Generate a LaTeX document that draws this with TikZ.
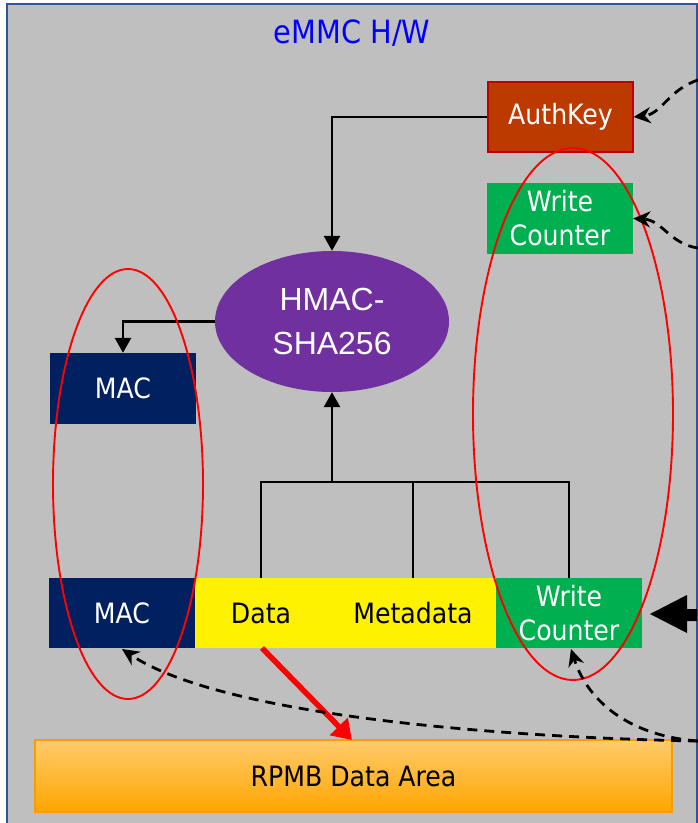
\documentclass[tikz,border=0pt]{standalone}
\usepackage{fontspec}
\setmainfont{DejaVu Sans Condensed}
\newfontfamily\arialfont{Liberation Sans}
\usetikzlibrary{shapes.geometric,arrows.meta,shadings}

\definecolor{panelgray}{HTML}{BFBFBF}
\definecolor{panelline}{HTML}{2F5597}
\definecolor{keyfill}{HTML}{BC3A00}
\definecolor{keyline}{HTML}{C00000}
\definecolor{cntgreen}{HTML}{00B050}
\definecolor{macnavy}{HTML}{002060}
\definecolor{hmacpurple}{HTML}{7030A0}
\definecolor{titleblue}{HTML}{0000FF}
\definecolor{rpmbtop}{HTML}{FFCB6B}
\definecolor{rpmbbot}{HTML}{FFA500}
\definecolor{rpmbline}{HTML}{F5A000}

\tikzset{
  lbl/.style={font=\fontsize{28}{34}\selectfont},
  box/.style={rectangle, inner sep=0pt, text=white, align=center, lbl},
  wire/.style={draw=black, line width=2.8pt},
  feed/.style={draw=black, line width=2.8pt, dash pattern=on 10pt off 7pt,
    -{Stealth[length=17pt,width=16pt]}},
  ring/.style={draw=red, line width=1.9pt},
  tip/.style={-{Triangle[length=15pt,width=16pt]}}
}

\begin{document}
\begin{tikzpicture}[x=1pt,y=-1pt]
\useasboundingbox (0,0) rectangle (698,823);

% device panel
\fill[panelgray] (7,4) rectangle (697,823);
\draw[panelline, line width=1.2pt] (7,823) -- (7,4) -- (697,4) -- (697,823);

\node[text=titleblue, font=\fontsize{32}{36}\selectfont] (title) at (352,33) {eMMC H/W};

% key and counter registers
\node[box, fill=keyfill, draw=keyline, line width=1.2pt,
      minimum width=145pt, minimum height=70pt] (auth) at (560.5,117) {AuthKey};
\node[box, fill=cntgreen, minimum width=146pt, minimum height=71pt]
      (wc1) at (560,218.5) {Write\\Counter};

% HMAC engine
\node[ellipse, fill=hmacpurple, inner sep=0pt, minimum width=234pt,
      minimum height=141pt, text=white, align=center,
      font=\arialfont\fontsize{32}{44}\selectfont] (hmac) at (332,321.5) {HMAC-\\SHA256};

\node[box, fill=macnavy, minimum width=146pt, minimum height=71pt]
      (mac1) at (123,388.5) {MAC};

% data frame
\node[box, fill=macnavy, minimum width=146pt, minimum height=70pt]
      (mac2) at (122,613) {MAC};
\node[rectangle, fill=yellow, inner sep=0pt, minimum width=301pt,
      minimum height=70pt] (frame) at (345.5,613) {};
\node[text=black, lbl] (data) at (261,613) {Data};
\node[text=black, lbl] (meta) at (413,613) {Metadata};
\node[box, fill=cntgreen, minimum width=146pt, minimum height=70pt]
      (wc2) at (569,613) {Write\\Counter};

% storage area
\node[rectangle, top color=rpmbtop, bottom color=rpmbbot, draw=rpmbline,
      line width=1.2pt, inner sep=0pt, minimum width=637pt, minimum height=72pt,
      lbl] (rpmb) at (353.5,776) {RPMB Data Area};

% HMAC inputs and output
\draw[wire, tip] (auth.west) -| (hmac.north);
\draw[wire, tip] (hmac.west) -| (mac1.north);
\coordinate (join) at (332,482);
\draw[wire, tip] (join) -- (hmac.south);
\draw[wire] (data |- frame.north) |- (join) -| (wc2.north);
\draw[wire] (meta |- frame.north) -- (meta |- join);

% data written to storage
\draw[red, line width=5.5pt, -{Triangle[length=19pt,width=24pt]}]
  (262,648) -- (352,740);

% grouping rings
\draw[ring] (128,484) ellipse [x radius=75, y radius=215];
\draw[ring] (573,414) ellipse [x radius=100, y radius=266];

% incoming frame arrow
\fill[black] (650,614) -- (687,595) -- (687,609) -- (697,609) -- (697,621)
  -- (687,621) -- (687,633) -- cycle;

% dashed feeds from outside
\coordinate (inkey) at (698,80);
\coordinate (incnt) at (698,248);
\coordinate (inrd) at (698,741);
\draw[feed] (inkey) .. controls (668,90) and (662,114) .. (auth.east);
\draw[feed] (incnt) .. controls (670,244) and (662,220) .. (wc1.east);
\draw[feed] (inrd) .. controls (630,736) and (588,702) .. (571,649);
\draw[feed] (inrd) .. controls (520,738) and (225,718) .. (122,649);
\end{tikzpicture}
\end{document}
